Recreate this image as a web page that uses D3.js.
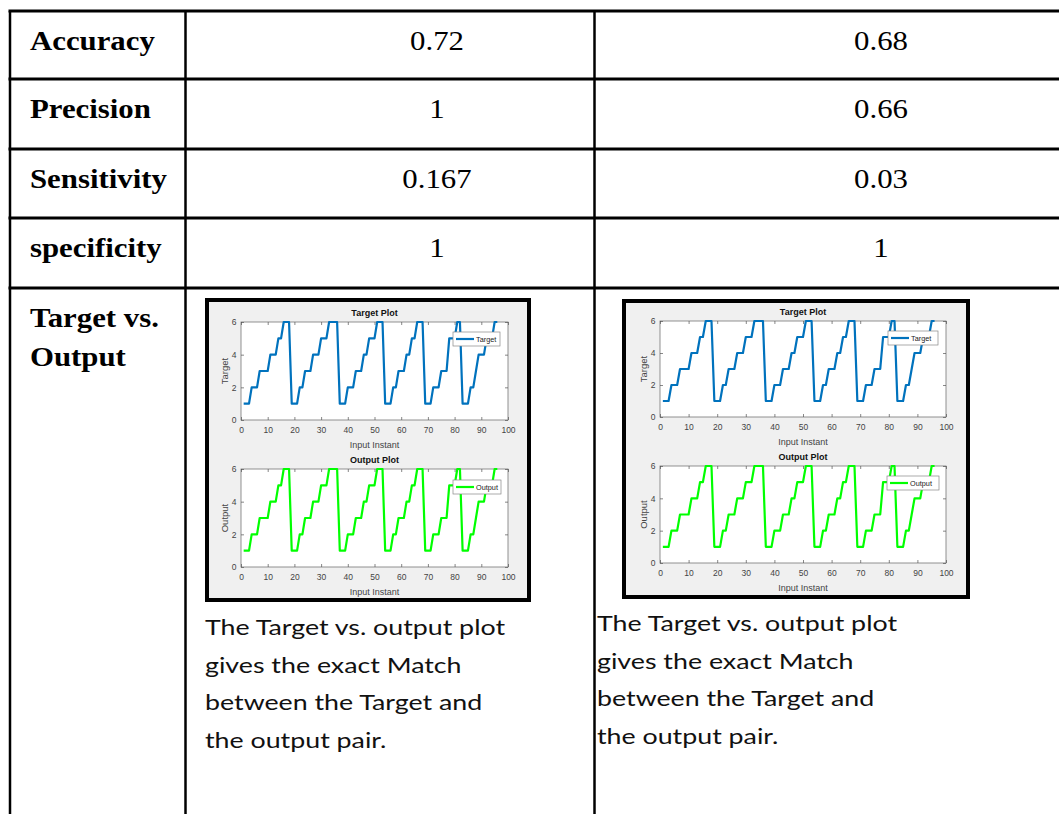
<!DOCTYPE html>
<html>
<head>
<meta charset="utf-8">
<script src="https://cdn.jsdelivr.net/npm/d3@7"></script>
<style>
    body { margin: 0; background: #fff; }
    svg { display: block; }
    .axis text { font-family: "Liberation Sans", Arial, sans-serif; font-size: 8.5px; fill: #444; }
    .axis path { display: none; }
    .axis line { stroke: #555; stroke-width: 0.7; }
</style>
</head>
<body>
<div id="chart"></div>
<script>
// table content
const rowLabels = ["Accuracy", "Precision", "Sensitivity", "specificity"]
const model1Scores = ["0.72", "1", "0.167", "1"]
const model2Scores = ["0.68", "0.66", "0.03", "1"]
const plotRowLabel = ["Target vs.", "Output"]
const captionLines = ["The Target vs. output plot", "gives the exact Match", "between the Target and", "the output pair."]

// plot content (sample index 1..96)
const xTicks = [0, 10, 20, 30, 40, 50, 60, 70, 80, 90, 100]
const yTicks = [0, 2, 4, 6]
const targetValues = [1, 1, 1, 2, 2, 2, 3, 3, 3, 3, 4, 4, 4, 5, 5, 6, 6, 6,
    1, 1, 1, 2, 2, 3, 3, 3, 4, 4, 4, 5, 5, 5, 6, 6, 6, 6,
    1, 1, 1, 2, 2, 2, 3, 3, 3, 4, 4, 5, 5, 5, 6, 6, 6,
    1, 1, 1, 2, 2, 3, 3, 3, 4, 4, 5, 5, 6, 6, 6,
    1, 1, 1, 2, 2, 2, 3, 3, 3, 5, 5, 5, 6, 6,
    1, 1, 1, 2, 2, 3, 4, 4, 4, 5, 5, 5, 6, 6]
const outputValues = [1, 1, 1, 2, 2, 2, 3, 3, 3, 3, 4, 4, 4, 5, 5, 6, 6, 6,
    1, 1, 1, 2, 2, 3, 3, 3, 4, 4, 4, 5, 5, 5, 6, 6, 6, 6,
    1, 1, 1, 2, 2, 2, 3, 3, 3, 4, 4, 5, 5, 5, 6, 6, 6,
    1, 1, 1, 2, 2, 3, 3, 3, 4, 4, 5, 5, 6, 6, 6,
    1, 1, 1, 2, 2, 2, 3, 3, 3, 5, 5, 5, 6, 6,
    1, 1, 1, 2, 2, 3, 4, 4, 4, 5, 5, 5, 6, 6]

const width = 1059, height = 814
const svg = d3.select("#chart").append("svg")
    .attr("width", width)
    .attr("height", height)

// ---- table grid ----
const rowTops = [11, 79, 149, 218, 288]
const colX = [10, 185.5, 594.5]
const colCenters = [437, 881]

svg.selectAll(".hline").data(rowTops).enter().append("line")
    .attr("x1", colX[0] - 1.5).attr("x2", width)
    .attr("y1", d => d).attr("y2", d => d)
    .attr("stroke", "#000").attr("stroke-width", 3)

svg.selectAll(".vline").data(colX).enter().append("line")
    .attr("x1", d => d).attr("x2", d => d)
    .attr("y1", rowTops[0]).attr("y2", height)
    .attr("stroke", "#000").attr("stroke-width", 2.5)

function stretchText(sel, x, y, sx) {
    sel.attr("transform", `translate(${x},${y}) scale(${sx},1)`)
}

const serif = "'Liberation Serif', 'Times New Roman', serif"

rowLabels.concat([plotRowLabel[0]]).forEach((lab, i) => {
    svg.append("text").text(lab)
        .attr("font-family", serif).attr("font-weight", "bold").attr("font-size", 28)
        .call(stretchText, 30, rowTops[i] + 39, 1.1)
})
svg.append("text").text(plotRowLabel[1])
    .attr("font-family", serif).attr("font-weight", "bold").attr("font-size", 28)
    .call(stretchText, 30, rowTops[4] + 78, 1.1)

;[model1Scores, model2Scores].forEach((scores, c) => {
    scores.forEach((s, i) => {
        svg.append("text").text(s)
            .attr("font-family", serif).attr("font-size", 28)
            .attr("text-anchor", "middle")
            .call(stretchText, colCenters[c], rowTops[i] + 39, 1.1)
    })
})

// ---- embedded MATLAB-style figures ----
const figures = [
    {x: 205, y: 298, w: 326, h: 304, panels: [
        {left: 241, right: 508, top: 322, bottom: 420, title: "Target Plot", ylab: "Target",
            values: targetValues, color: "#0072BD", legend: {x: 453, y: 332, w: 47, h: 14}},
        {left: 241, right: 508, top: 469, bottom: 567, title: "Output Plot", ylab: "Output",
            values: outputValues, color: "#00FF00", legend: {x: 453, y: 480, w: 48, h: 14}}
    ]},
    {x: 622, y: 299, w: 348, h: 300, panels: [
        {left: 660, right: 946, top: 321, bottom: 417, title: "Target Plot", ylab: "Target",
            values: targetValues, color: "#0072BD", legend: {x: 888, y: 331, w: 50, h: 14}},
        {left: 660, right: 946, top: 466, bottom: 563, title: "Output Plot", ylab: "Output",
            values: outputValues, color: "#00FF00", legend: {x: 887, y: 476, w: 52, h: 14}}
    ]}
]

figures.forEach(f => {
    svg.append("rect")
        .attr("x", f.x + 2).attr("y", f.y + 2)
        .attr("width", f.w - 4).attr("height", f.h - 4)
        .attr("fill", "#f0f0f0").attr("stroke", "#000").attr("stroke-width", 4)
    f.panels.forEach(p => drawPanel(p))
})

function drawPanel(p) {
    let x = d3.scaleLinear().domain([0, 100]).range([p.left, p.right])
    let y = d3.scaleLinear().domain([0, 6]).range([p.bottom, p.top])

    let g = svg.append("g")

    g.append("rect")
        .attr("x", p.left).attr("y", p.top)
        .attr("width", p.right - p.left).attr("height", p.bottom - p.top)
        .attr("fill", "#fff").attr("stroke", "#777").attr("stroke-width", 0.8)

    g.append("g").attr("class", "axis")
        .attr("transform", `translate(0,${p.bottom})`)
        .call(d3.axisBottom(x).tickValues(xTicks).tickFormat(d3.format("d"))
            .tickSizeInner(-3).tickSizeOuter(0).tickPadding(7))
    g.append("g").attr("class", "axis")
        .attr("transform", `translate(0,${p.top})`)
        .call(d3.axisTop(x).tickValues(xTicks).tickSizeInner(-3).tickSizeOuter(0).tickFormat(""))
    g.append("g").attr("class", "axis")
        .attr("transform", `translate(${p.left},0)`)
        .call(d3.axisLeft(y).tickValues(yTicks).tickFormat(d3.format("d"))
            .tickSizeInner(-3).tickSizeOuter(0).tickPadding(4.5))
    g.append("g").attr("class", "axis")
        .attr("transform", `translate(${p.right},0)`)
        .call(d3.axisRight(y).tickValues(yTicks).tickSizeInner(-3).tickSizeOuter(0).tickFormat(""))

    g.append("path")
        .datum(p.values)
        .attr("fill", "none")
        .attr("stroke", p.color)
        .attr("stroke-width", 2.2)
        .attr("stroke-linejoin", "round")
        .attr("d", d3.line()
            .x((d, i) => x(i + 1))
            .y(d => y(d)))

    g.append("text").text(p.title)
        .attr("x", (p.left + p.right) / 2).attr("y", p.top - 6)
        .attr("text-anchor", "middle")
        .attr("font-family", "'Liberation Sans', Arial, sans-serif")
        .attr("font-weight", "bold").attr("font-size", 9).attr("fill", "#111")

    g.append("text").text("Input Instant")
        .attr("x", (p.left + p.right) / 2).attr("y", p.bottom + 28)
        .attr("text-anchor", "middle")
        .attr("font-family", "'Liberation Sans', Arial, sans-serif")
        .attr("font-size", 9).attr("fill", "#444")

    g.append("text").text(p.ylab)
        .attr("transform", `translate(${p.left - 13},${(p.top + p.bottom) / 2}) rotate(-90)`)
        .attr("text-anchor", "middle")
        .attr("font-family", "'Liberation Sans', Arial, sans-serif")
        .attr("font-size", 9.5).attr("fill", "#444")

    // legend
    let L = p.legend
    g.append("rect")
        .attr("x", L.x).attr("y", L.y).attr("width", L.w).attr("height", L.h)
        .attr("fill", "#fff").attr("stroke", "#888").attr("stroke-width", 0.7)
    g.append("line")
        .attr("x1", L.x + 3).attr("x2", L.x + 21)
        .attr("y1", L.y + L.h / 2).attr("y2", L.y + L.h / 2)
        .attr("stroke", p.color).attr("stroke-width", 2.2)
    g.append("text").text(p.ylab)
        .attr("x", L.x + 23).attr("y", L.y + L.h / 2 + 2.6)
        .attr("font-family", "'Liberation Sans', Arial, sans-serif")
        .attr("font-size", 7.3).attr("fill", "#222")
}

// ---- captions ----
const captionStarts = [{x: 205, y: 635}, {x: 597, y: 631}]
captionStarts.forEach(c => {
    let texts = captionLines.map((line, i) => svg.append("text").text(line)
        .attr("font-family", "Lato, 'Open Sans', sans-serif")
        .attr("font-size", 22).attr("fill", "#111"))
    let sx = 300 / texts[0].node().getComputedTextLength()
    texts.forEach((t, i) => t.call(stretchText, c.x, c.y + i * 37.5, sx))
})
</script>
</body>
</html>
